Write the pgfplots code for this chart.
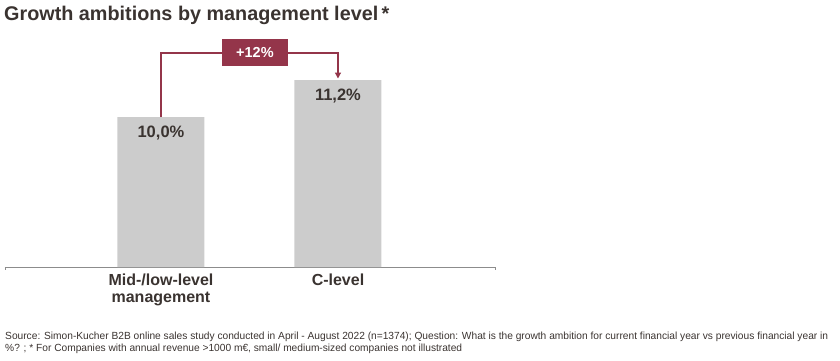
\documentclass[border=0pt]{standalone}
\usepackage{pgfplots}
\pgfplotsset{compat=1.18}
\usepackage{fontspec}
\setmainfont{Liberation Sans}
\usetikzlibrary{arrows.meta}
\definecolor{bargray}{RGB}{204,204,204}
\definecolor{berry}{RGB}{148,53,74}
\definecolor{txt}{RGB}{58,51,48}
\definecolor{axgray}{RGB}{140,140,140}
\begin{document}
\begin{tikzpicture}[x=1pt,y=1pt]
\path[use as bounding box] (0,0) rectangle (840,360);
\node[anchor=west,font=\fontsize{19.8}{22}\selectfont\bfseries,text=txt,inner sep=0] at (4,345) {Growth ambitions by management level\,*};
\begin{axis}[
  at={(5pt,93pt)}, anchor=south west,
  scale only axis, width=490pt, height=211.6pt,
  xmin=-0.881, xmax=1.887, ymin=5.13, ymax=12,
  axis x line=bottom, axis y line=none,
  axis line style={axgray, line width=0.8pt, -},
  x axis line style={-},
  xtick=data, xticklabels={{Mid-/low-level\\management},{C-level}},
  xticklabel style={align=center, font=\fontsize{16}{17.5}\selectfont\bfseries, text=txt, yshift=-3pt},
  major tick length=0pt,
  clip=false,
  ybar, bar width=87pt,
  nodes near coords, point meta=explicit symbolic,
  every node near coord/.append style={anchor=north, font=\fontsize{16.5}{18}\selectfont\bfseries, text=txt, yshift=-5pt},
]
\addplot[fill=bargray, draw=none] coordinates {(0,10.0) [10,0\%] (1,11.2) [11,2\%]};
\draw[berry, line width=1.3pt] (axis cs:0,10.0) |- (axis cs:0.531,12.08);
\draw[berry, line width=1.3pt, -{Triangle[length=6pt,width=6pt]}] (axis cs:0.531,12.08) -| (axis cs:1,11.25);
\node[fill=berry, text=white, font=\fontsize{14.5}{16}\selectfont\bfseries, minimum width=66pt, minimum height=27pt, inner sep=0] at (axis cs:0.531,12.08) {+12\%};
\draw[axgray, line width=0.8pt] (axis cs:-0.881,5.13) -- ([yshift=-3pt]axis cs:-0.881,5.13);
\draw[axgray, line width=0.8pt] (axis cs:1.887,5.13) -- ([yshift=-3pt]axis cs:1.887,5.13);
\end{axis}
\node[anchor=west, font=\fontsize{9.5}{12}\selectfont, text=txt, inner sep=0] at (5,23) {\resizebox{823pt}{7.5pt}{Source: Simon-Kucher B2B online sales study conducted in April - August 2022 (n=1374); Question: What is the growth ambition for current financial year vs previous financial year in}};
\node[anchor=west, font=\fontsize{9.5}{12}\selectfont, text=txt, inner sep=0] at (5,11) {\resizebox{457pt}{7.5pt}{\%? ; * For Companies with annual revenue >1000 m€, small/ medium-sized companies not illustrated}};
\end{tikzpicture}
\end{document}
